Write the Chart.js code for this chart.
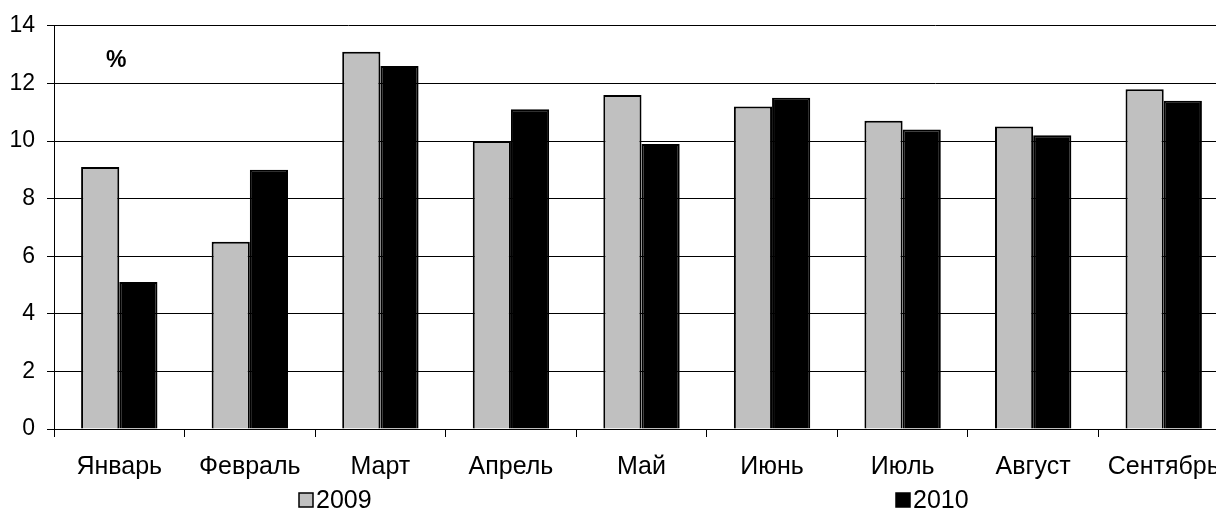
<!DOCTYPE html>
<html>
<head>
<meta charset="utf-8">
<script src="https://cdn.jsdelivr.net/npm/chart.js@4"></script>
<style>
html,body{margin:0;padding:0;overflow:hidden;background:#fff;}
#wrap{position:relative;width:1260px;height:509px;}
</style>
</head>
<body>
<div id="wrap"><canvas id="c"></canvas></div>
<script>
const categories = ['Январь','Февраль','Март','Апрель','Май','Июнь','Июль','Август','Сентябрь'];
const series2009 = [9.1, 6.5, 13.1, 10.0, 11.6, 11.2, 10.7, 10.5, 11.8];
const series2010 = [5.1, 9.0, 12.6, 11.1, 9.9, 11.5, 10.4, 10.2, 11.4];
const seriesNames = ['2009','2010'];
const unitLabel = '%';

const FONT = '"Liberation Sans", Arial, sans-serif';

const overlay = {
  id: 'overlay',
  afterDraw(chart) {
    const ctx = chart.ctx;
    ctx.save();
    // unit label
    ctx.fillStyle = '#000';
    ctx.font = 'bold 23px ' + FONT;
    ctx.textBaseline = 'middle';
    ctx.textAlign = 'left';
    ctx.fillText(unitLabel, 106, 61);
    // legend
    const pos = [298, 895];
    chart.data.datasets.forEach((ds, i) => {
      const x = pos[i];
      ctx.fillStyle = ds.backgroundColor;
      ctx.fillRect(x + 1, 493, 14, 14);
      ctx.strokeStyle = '#000';
      ctx.lineWidth = 1.5;
      ctx.strokeRect(x + 1, 493, 14, 14);
      ctx.fillStyle = '#000';
      ctx.font = '25px ' + FONT;
      ctx.textBaseline = 'alphabetic';
      ctx.fillText(ds.label, x + 18, 508);
    });
    ctx.restore();
  }
};

new Chart(document.getElementById('c'), {
  type: 'bar',
  data: {
    labels: categories,
    datasets: [
      { label: seriesNames[0], data: series2009, backgroundColor: '#c0c0c0', borderColor: '#000', borderWidth: 2 },
      { label: seriesNames[1], data: series2010, backgroundColor: '#000000', borderColor: '#000', borderWidth: 2 }
    ]
  },
  options: {
    responsive: true,
    maintainAspectRatio: false,
    animation: false,
    layout: { padding: { top: 25, right: 31, bottom: 12, left: 0 } },
    datasets: { bar: { categoryPercentage: 0.585, barPercentage: 1.0 } },
    plugins: { legend: { display: false }, tooltip: { enabled: false } },
    scales: {
      x: {
        offset: true,
        grid: { display: true, drawOnChartArea: false, drawTicks: true, tickLength: 8, color: '#000', offset: true },
        border: { display: true, color: '#000', width: 1 },
        ticks: { color: '#000', font: { family: FONT, size: 25 }, maxRotation: 0, autoSkip: false, padding: 15 }
      },
      y: {
        min: 0, max: 14,
        ticks: { stepSize: 2, color: '#000', font: { family: FONT, size: 23 }, padding: 12 },
        grid: { color: '#000', lineWidth: 1, tickLength: 7, drawTicks: true },
        border: { display: true, color: '#000', width: 1 },
        afterFit(s) { s.width = 54; }
      }
    }
  },
  plugins: [overlay]
});
</script>
</body>
</html>
